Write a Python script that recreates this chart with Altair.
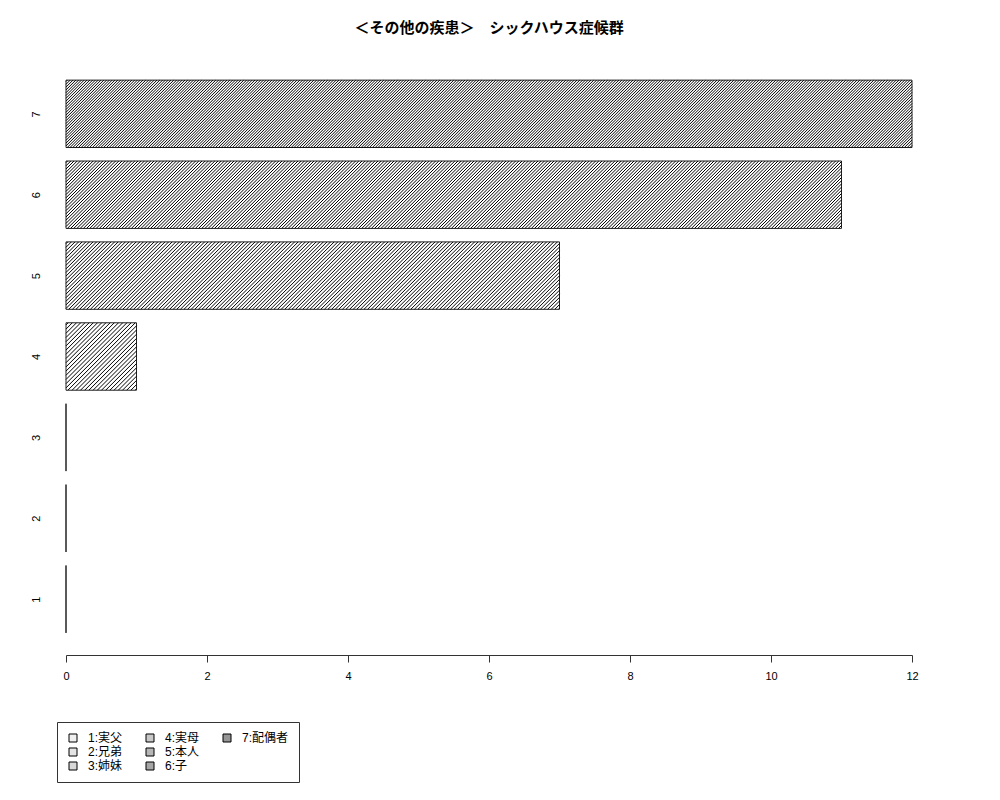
import altair as alt
import pandas as pd

# ---- data ----
categories = ["1", "2", "3", "4", "5", "6", "7"]
labels = ["1:実父", "2:兄弟", "3:姉妹", "4:実母", "5:本人", "6:子", "7:配偶者"]
values = [0, 0, 0, 1, 7, 11, 12]
x_ticks = [0, 2, 4, 6, 8, 10, 12]
title_text = "＜その他の疾患＞　シックハウス症候群"

# ---- styles ----
hatch_px = [6.0, 5.4, 4.8, 4.2, 3.6, 3.2, 2.8]       # horizontal spacing of hatch lines (px)
legend_fill = ["#f0f0f0", "#e4e4e4", "#d8d8d8", "#c8c8c8", "#b6b6b6", "#a6a6a6", "#969696"]
W, H = 846, 597
X_DOM = [0, 12]
Y_DOM = [-0.128, 8.728]
kx = W / (X_DOM[1] - X_DOM[0])
ky = H / (Y_DOM[1] - Y_DOM[0])
FONT = "Liberation Sans, Noto Sans CJK JP"

# bar table (R barplot layout: width 1, space 0.2)
bars = pd.DataFrame({
    "cat": categories,
    "label": labels,
    "value": values,
    "ylo": [1.2 * (i + 1) - 1 for i in range(len(categories))],
    "yhi": [1.2 * (i + 1) for i in range(len(categories))],
})

# hatch segments (45 degrees in screen space), clipped to each bar
segs = []
for i, (v, s) in enumerate(zip(values, hatch_px)):
    if v <= 0:
        continue
    bw = v * kx
    bh = 1.0 * ky
    y0 = bars["ylo"][i]
    c = -bh + s / 2
    while c < bw:
        if c < 0:
            sx, sy = 0.0, -c
        else:
            sx, sy = c, 0.0
        if c + bh > bw:
            ex, ey = bw, bw - c
        else:
            ex, ey = c + bh, bh
        segs.append({"xs": sx / kx, "ys": y0 + sy / ky, "xe": ex / kx, "ye": y0 + ey / ky})
        c += s
hatch = pd.DataFrame(segs)

xscale = alt.Scale(domain=X_DOM, nice=False, zero=False)
yscale = alt.Scale(domain=Y_DOM, nice=False, zero=False)
xaxis = alt.Axis(values=x_ticks, title=None, grid=False, tickSize=7, labelPadding=8,
                 labelAngle=0, labelAlign="center", labelBaseline="top",
                 domainColor="#333", tickColor="#333", labelColor="black",
                 labelFont=FONT, labelFontSize=11, format="d")
yaxis = alt.Axis(values=[1.2 * (i + 1) - 0.5 for i in range(len(categories))],
                 labelExpr="'' + round((datum.value + 0.5) / 1.2)",
                 title=None, grid=False, ticks=False, domain=False, labelAngle=270,
                 labelAlign="center", labelBaseline="bottom", labelPadding=25,
                 labelFont=FONT, labelFontSize=11, labelColor="black")

bar_layer = alt.Chart(bars).mark_rect(fill="white", stroke="#222", strokeWidth=1).encode(
    x=alt.X("value:Q", scale=xscale, axis=xaxis),
    x2=alt.datum(0),
    y=alt.Y("ylo:Q", scale=yscale, axis=yaxis),
    y2="yhi:Q",
)

hatch_layer = alt.Chart(hatch).mark_rule(stroke="black", strokeWidth=1.0).encode(
    x=alt.X("xs:Q", scale=xscale, axis=xaxis),
    x2="xe:Q",
    y=alt.Y("ys:Q", scale=yscale, axis=yaxis),
    y2="ye:Q",
)

legend_order = ["1:実父", "4:実母", "7:配偶者", "2:兄弟", "5:本人", " ", "3:姉妹", "6:子"]
fill_map = dict(zip(labels, legend_fill))
legend_range = [fill_map.get(l, "rgba(0,0,0,0)") for l in legend_order]
stroke_range = ["black" if l in fill_map else "rgba(0,0,0,0)" for l in legend_order]

leg = alt.Legend(title=None, orient="none", legendX=-9, legendY=664, columns=3,
                 direction="horizontal", gridAlign="all",
                 symbolType="square", symbolSize=64, symbolStrokeWidth=1, symbolOpacity=1,
                 labelFont=FONT, labelFontSize=12, labelColor="black", labelOffset=9,
                 columnPadding=9, rowPadding=2, padding=10,
                 strokeColor="#333", fillColor="white")

legend_layer = alt.Chart(bars).mark_point(shape="square", filled=True, opacity=0).encode(
    x=alt.X("value:Q", scale=xscale, axis=xaxis),
    y=alt.Y("ylo:Q", scale=yscale, axis=yaxis),
    fill=alt.Fill("label:N", scale=alt.Scale(domain=legend_order, range=legend_range), legend=leg),
    stroke=alt.Stroke("label:N", scale=alt.Scale(domain=legend_order, range=stroke_range), legend=leg),
)

chart = alt.layer(bar_layer, hatch_layer, legend_layer).properties(
    width=W, height=H,
    background="white",
    title=alt.TitleParams(title_text, font="Noto Sans CJK JP", fontSize=15, fontWeight="bold",
                          anchor="middle", offset=22, color="black"),
    padding={"left": 58, "top": 50, "right": 20, "bottom": 135},
    autosize=alt.AutoSizeParams(type="none"),
).configure_view(stroke="transparent")

chart.save("out.html", embed_options={"renderer": "svg", "actions": False})
